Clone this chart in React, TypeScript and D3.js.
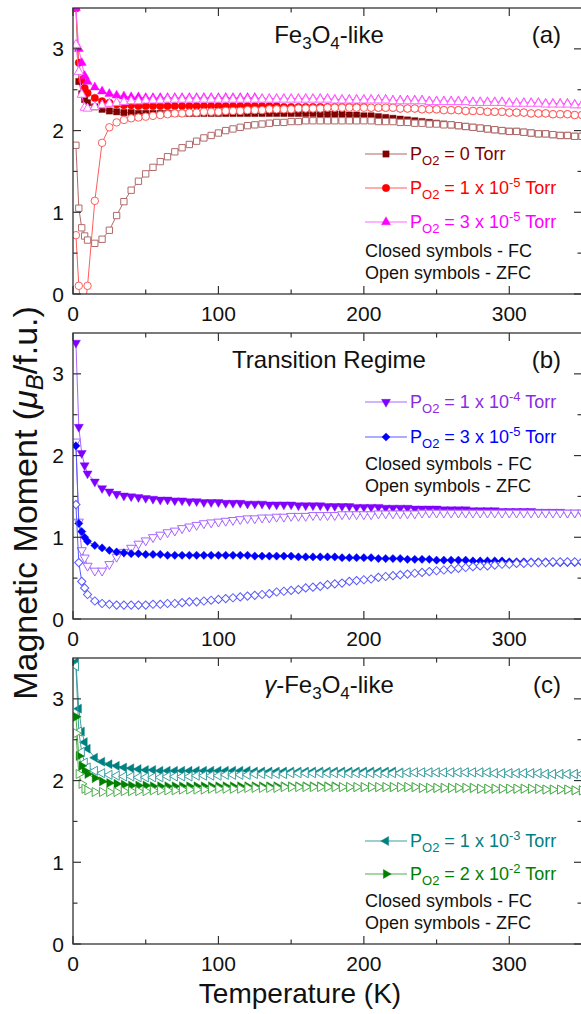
import React from "react";
import * as d3 from "d3";

// temperature grid (K), shared by every curve
const temps = [
  2, 4, 6, 8, 10, 15, 20, 25, 30, 35, 40, 45, 50, 55, 60, 65, 70, 75, 80, 85,
  90, 95, 100, 105, 110, 115, 120, 125, 130, 135, 140, 145, 150, 155, 160, 165,
  170, 175, 180, 185, 190, 195, 200, 205, 210, 215, 220, 225, 230, 235, 240,
  245, 250, 255, 260, 265, 270, 275, 280, 285, 290, 295, 300, 305, 310, 315,
  320, 325, 330, 335, 340, 345, 350,
];

/* (a) Fe3O4-like */
const a0FC = [
  3.5, 2.6, 2.45, 2.38, 2.34,
  2.29, 2.26, 2.24, 2.23, 2.22, 2.22, 2.21, 2.21, 2.21, 2.21,
  2.21, 2.21, 2.21, 2.21, 2.21, 2.21, 2.21, 2.21, 2.21, 2.21,
  2.21, 2.21, 2.21, 2.21, 2.21, 2.21, 2.21, 2.21, 2.21, 2.21,
  2.21, 2.2, 2.2, 2.2, 2.2, 2.19, 2.19, 2.18, 2.18, 2.17,
  2.16, 2.15, 2.14, 2.13, 2.12, 2.11, 2.1, 2.09, 2.08, 2.07,
  2.06, 2.05, 2.04, 2.03, 2.02, 2.01, 2.0, 1.99, 1.99, 1.98,
  1.97, 1.96, 1.96, 1.95, 1.94, 1.94, 1.93, 1.93,
];
const a0ZFC = [
  1.82, 1.05, 0.81, 0.71, 0.66,
  0.62, 0.67, 0.78, 0.96, 1.13, 1.27, 1.38, 1.47, 1.55, 1.62,
  1.68, 1.74, 1.79, 1.83, 1.87, 1.91, 1.94, 1.97, 2.0, 2.02,
  2.04, 2.06, 2.07, 2.08, 2.09, 2.1, 2.1, 2.11, 2.11, 2.12,
  2.12, 2.12, 2.12, 2.12, 2.12, 2.12, 2.12, 2.12, 2.12, 2.11,
  2.11, 2.11, 2.1, 2.1, 2.09, 2.09, 2.08, 2.08, 2.07, 2.07,
  2.06, 2.05, 2.04, 2.03, 2.02, 2.01, 2.0, 1.99, 1.99, 1.98,
  1.97, 1.96, 1.96, 1.95, 1.94, 1.94, 1.93, 1.93,
];
const a1FC = [
  3.5, 2.83, 2.62, 2.52, 2.46,
  2.4, 2.36, 2.34, 2.32, 2.31, 2.31, 2.3, 2.3, 2.3, 2.3,
  2.3, 2.3, 2.3, 2.3, 2.3, 2.3, 2.3, 2.3, 2.3, 2.3,
  2.3, 2.3, 2.3, 2.3, 2.3, 2.3, 2.29, 2.29, 2.29, 2.29,
  2.29, 2.29, 2.29, 2.29, 2.29, 2.29, 2.29, 2.29, 2.28, 2.28,
  2.28, 2.28, 2.27, 2.27, 2.27, 2.26, 2.26, 2.26, 2.25, 2.25,
  2.25, 2.24, 2.24, 2.24, 2.23, 2.23, 2.23, 2.22, 2.22, 2.22,
  2.21, 2.21, 2.21, 2.2, 2.2, 2.2, 2.19, 2.19,
];
const a1ZFC = [
  0.72, 0.1, -0.3, -0.2, 0.1,
  1.14, 1.85, 2.04, 2.1, 2.13, 2.15, 2.16, 2.17, 2.18, 2.19,
  2.2, 2.21, 2.21, 2.22, 2.22, 2.23, 2.23, 2.23, 2.24, 2.24,
  2.24, 2.25, 2.25, 2.25, 2.26, 2.26, 2.26, 2.26, 2.27, 2.27,
  2.27, 2.27, 2.28, 2.28, 2.28, 2.28, 2.28, 2.28, 2.28, 2.28,
  2.28, 2.28, 2.27, 2.27, 2.27, 2.26, 2.26, 2.26, 2.25, 2.25,
  2.25, 2.24, 2.24, 2.24, 2.23, 2.23, 2.23, 2.22, 2.22, 2.22,
  2.21, 2.21, 2.21, 2.2, 2.2, 2.2, 2.19, 2.19,
];
const a2FC = [
  3.5, 3.0, 2.83, 2.67, 2.6,
  2.53, 2.48, 2.45, 2.43, 2.42, 2.41, 2.41, 2.4, 2.4, 2.4,
  2.4, 2.4, 2.4, 2.4, 2.4, 2.4, 2.4, 2.4, 2.4, 2.4,
  2.4, 2.4, 2.4, 2.39, 2.39, 2.39, 2.39, 2.39, 2.39, 2.39,
  2.39, 2.39, 2.39, 2.38, 2.38, 2.38, 2.38, 2.38, 2.38, 2.38,
  2.38, 2.37, 2.37, 2.37, 2.37, 2.37, 2.36, 2.36, 2.36, 2.36,
  2.36, 2.36, 2.35, 2.35, 2.35, 2.35, 2.35, 2.34, 2.34, 2.34,
  2.34, 2.34, 2.33, 2.33, 2.33, 2.33, 2.32, 2.32,
];
const a2ZFC = [
  3.05, 2.72, 2.44, 2.28, 2.27,
  2.29, 2.31, 2.33, 2.34, 2.35, 2.36, 2.36, 2.37, 2.37, 2.37,
  2.38, 2.38, 2.38, 2.38, 2.38, 2.38, 2.38, 2.38, 2.38, 2.38,
  2.38, 2.38, 2.38, 2.38, 2.38, 2.38, 2.38, 2.38, 2.38, 2.38,
  2.38, 2.38, 2.38, 2.37, 2.37, 2.37, 2.37, 2.37, 2.37, 2.37,
  2.37, 2.36, 2.36, 2.36, 2.36, 2.36, 2.35, 2.35, 2.35, 2.35,
  2.35, 2.35, 2.34, 2.34, 2.34, 2.34, 2.34, 2.33, 2.33, 2.33,
  2.33, 2.33, 2.32, 2.32, 2.32, 2.32, 2.31, 2.31,
];

/* (b) Transition regime */
const b0FC = [
  3.38, 2.35, 2.03, 1.88, 1.78,
  1.68, 1.6, 1.56, 1.53, 1.51, 1.5, 1.49, 1.48, 1.47, 1.46,
  1.46, 1.45, 1.45, 1.44, 1.44, 1.43, 1.43, 1.43, 1.42, 1.42,
  1.42, 1.41, 1.41, 1.41, 1.4, 1.4, 1.4, 1.4, 1.39, 1.39,
  1.39, 1.39, 1.38, 1.38, 1.38, 1.38, 1.37, 1.37, 1.37, 1.37,
  1.36, 1.36, 1.36, 1.36, 1.35, 1.35, 1.35, 1.35, 1.34, 1.34,
  1.34, 1.34, 1.33, 1.33, 1.33, 1.33, 1.32, 1.32, 1.32, 1.32,
  1.32, 1.31, 1.31, 1.31, 1.31, 1.3, 1.3, 1.3,
];
const b0ZFC = [
  2.17, 1.19, 0.84, 0.75, 0.65,
  0.59, 0.59, 0.67, 0.76, 0.82, 0.87, 0.92, 0.96, 1.0, 1.03,
  1.06, 1.08, 1.11, 1.13, 1.15, 1.17, 1.18, 1.19, 1.2, 1.21,
  1.22, 1.23, 1.23, 1.24, 1.24, 1.25, 1.25, 1.26, 1.26, 1.26,
  1.27, 1.27, 1.27, 1.27, 1.28, 1.28, 1.28, 1.28, 1.28, 1.29,
  1.29, 1.29, 1.29, 1.29, 1.29, 1.3, 1.3, 1.3, 1.3, 1.3,
  1.3, 1.3, 1.3, 1.3, 1.3, 1.3, 1.3, 1.3, 1.3, 1.3,
  1.3, 1.3, 1.3, 1.3, 1.3, 1.3, 1.3, 1.3,
];
const b1FC = [
  2.12, 1.17, 1.07, 1.0, 0.95,
  0.9, 0.87, 0.84, 0.82, 0.81, 0.8, 0.8, 0.79, 0.79, 0.79,
  0.78, 0.78, 0.78, 0.78, 0.78, 0.78, 0.78, 0.78, 0.78, 0.78,
  0.78, 0.78, 0.77, 0.77, 0.77, 0.77, 0.77, 0.77, 0.76, 0.76,
  0.76, 0.76, 0.76, 0.76, 0.75, 0.75, 0.75, 0.75, 0.75, 0.74,
  0.74, 0.74, 0.74, 0.73, 0.73, 0.73, 0.73, 0.72, 0.72, 0.72,
  0.72, 0.72, 0.71, 0.71, 0.71, 0.71, 0.71, 0.7, 0.7, 0.7,
  0.7, 0.7, 0.7, 0.69, 0.69, 0.69, 0.69, 0.69,
];
const b1ZFC = [
  1.4, 0.69, 0.46, 0.38, 0.3,
  0.22, 0.19, 0.18, 0.17, 0.17, 0.17, 0.17, 0.17, 0.18, 0.18,
  0.19, 0.19, 0.2, 0.21, 0.21, 0.22, 0.23, 0.24, 0.25, 0.26,
  0.27, 0.28, 0.29, 0.3, 0.31, 0.33, 0.34, 0.35, 0.36, 0.38,
  0.39, 0.4, 0.42, 0.43, 0.44, 0.46, 0.47, 0.48, 0.49, 0.51,
  0.52, 0.53, 0.54, 0.55, 0.56, 0.57, 0.58, 0.59, 0.6, 0.61,
  0.62, 0.63, 0.64, 0.65, 0.65, 0.66, 0.67, 0.67, 0.68, 0.68,
  0.69, 0.69, 0.69, 0.7, 0.7, 0.7, 0.7, 0.7,
];

/* (c) gamma-Fe3O4-like */
const c0FC = [
  3.45, 2.88, 2.6, 2.47, 2.39,
  2.28, 2.23, 2.2, 2.18, 2.16, 2.15, 2.14, 2.13, 2.13, 2.12,
  2.12, 2.12, 2.12, 2.12, 2.12, 2.12, 2.12, 2.12, 2.12, 2.12,
  2.12, 2.12, 2.11, 2.11, 2.11, 2.11, 2.11, 2.11, 2.11, 2.11,
  2.11, 2.11, 2.11, 2.11, 2.11, 2.11, 2.11, 2.11, 2.11, 2.11,
  2.11, 2.11, 2.1, 2.1, 2.1, 2.1, 2.1, 2.1, 2.1, 2.1,
  2.1, 2.1, 2.1, 2.1, 2.1, 2.09, 2.09, 2.09, 2.09, 2.09,
  2.09, 2.09, 2.08, 2.08, 2.08, 2.08, 2.08, 2.08,
];
const c0ZFC = [
  3.4, 2.6, 2.35, 2.22, 2.16,
  2.12, 2.09, 2.07, 2.06, 2.05, 2.05, 2.04, 2.04, 2.04, 2.04,
  2.05, 2.05, 2.05, 2.05, 2.06, 2.06, 2.06, 2.06, 2.07, 2.07,
  2.07, 2.07, 2.08, 2.08, 2.08, 2.08, 2.08, 2.09, 2.09, 2.09,
  2.09, 2.09, 2.09, 2.09, 2.09, 2.09, 2.09, 2.09, 2.09, 2.09,
  2.09, 2.09, 2.09, 2.1, 2.1, 2.1, 2.1, 2.1, 2.1, 2.1,
  2.1, 2.1, 2.1, 2.1, 2.1, 2.09, 2.09, 2.09, 2.09, 2.09,
  2.09, 2.09, 2.08, 2.08, 2.08, 2.08, 2.08, 2.08,
];
const c1FC = [
  2.78, 2.3, 2.18, 2.12, 2.08,
  2.03, 1.99, 1.97, 1.96, 1.95, 1.94, 1.94, 1.94, 1.93, 1.93,
  1.93, 1.93, 1.93, 1.93, 1.93, 1.93, 1.93, 1.93, 1.93, 1.93,
  1.93, 1.93, 1.93, 1.93, 1.93, 1.93, 1.93, 1.93, 1.93, 1.93,
  1.93, 1.93, 1.93, 1.93, 1.92, 1.92, 1.92, 1.92, 1.92, 1.92,
  1.92, 1.92, 1.92, 1.92, 1.92, 1.91, 1.91, 1.91, 1.91, 1.91,
  1.91, 1.91, 1.91, 1.9, 1.9, 1.9, 1.9, 1.9, 1.9, 1.9,
  1.9, 1.9, 1.89, 1.89, 1.89, 1.89, 1.88, 1.88,
];
const c1ZFC = [
  2.58, 2.08, 1.96, 1.9, 1.88,
  1.86, 1.86, 1.86, 1.86, 1.87, 1.87, 1.87, 1.87, 1.88, 1.88,
  1.88, 1.88, 1.89, 1.89, 1.89, 1.89, 1.9, 1.9, 1.9, 1.9,
  1.9, 1.91, 1.91, 1.91, 1.91, 1.91, 1.92, 1.92, 1.92, 1.92,
  1.92, 1.92, 1.92, 1.92, 1.92, 1.92, 1.92, 1.92, 1.92, 1.92,
  1.92, 1.92, 1.92, 1.92, 1.92, 1.91, 1.91, 1.91, 1.91, 1.91,
  1.91, 1.91, 1.91, 1.9, 1.9, 1.9, 1.9, 1.9, 1.9, 1.9,
  1.9, 1.9, 1.89, 1.89, 1.89, 1.89, 1.88, 1.88,
];

const xTicks = [0, 100, 200, 300];
const xMinor = [50, 150, 250, 350];
const yTicks = [0, 1, 2, 3];
const yMinor = [0.5, 1.5, 2.5];

const FONT = "'Liberation Sans', Arial, Helvetica, sans-serif";
const AXIS = "#333";

const x = d3.scaleLinear().domain([0, 350]).range([73, 582]);
const PANEL_H = 286;

type Shape = "square" | "circle" | "up" | "down" | "left" | "right" | "diamond";

const symType = (s: Shape) =>
  s === "circle" ? d3.symbolCircle : s === "square" || s === "diamond" ? d3.symbolSquare : d3.symbolTriangle;
const symRot: Record<Shape, number> = { square: 0, circle: 0, up: 0, down: 180, left: -90, right: 90, diamond: 45 };
const symSize: Record<Shape, number> = { square: 40, circle: 44, up: 36, down: 36, left: 36, right: 36, diamond: 34 };

const Marker = ({ shape, cx, cy, color, filled }: any) => (
  <path
    d={d3.symbol().type(symType(shape)).size(symSize[shape as Shape])() as string}
    transform={`translate(${cx},${cy}) rotate(${symRot[shape as Shape]})`}
    fill={filled ? color : "#fff"}
    stroke={color}
    strokeWidth={filled ? 0.4 : 1}
  />
);

const Sub = ({ children, size, dy }: any) => (
  <tspan fontSize={size} dy={dy}>
    {children}
  </tspan>
);

const Panel = ({ top, id, title, tag, series, legendRows, noteX, noteY }: any) => {
  const y = d3.scaleLinear().domain([0, 3.5]).range([top + PANEL_H, top]);
  const bottom = top + PANEL_H;
  const line = d3
    .line<number>()
    .x((_, i) => x(temps[i]))
    .y((d) => y(d));
  return (
    <g>
      <clipPath id={id}>
        <rect x={x(0)} y={top} width={x(350) - x(0)} height={PANEL_H} />
      </clipPath>
      <g clipPath={`url(#${id})`}>
        {series.map((s: any, k: number) => (
          <g key={k}>
            <path d={line(s.fc) as string} fill="none" stroke={s.light} strokeWidth={1} />
            {s.fc.map((v: number, i: number) => (
              <Marker key={"f" + i} shape={s.shape} cx={x(temps[i])} cy={y(v)} color={s.dark} filled />
            ))}
            <path d={line(s.zfc) as string} fill="none" stroke={s.light} strokeWidth={1} />
            {s.zfc.map((v: number, i: number) => (
              <Marker key={"z" + i} shape={s.shape} cx={x(temps[i])} cy={y(v)} color={s.light} filled={false} />
            ))}
          </g>
        ))}
      </g>
      {/* frame and ticks */}
      <rect x={x(0)} y={top} width={x(350) - x(0)} height={PANEL_H} fill="none" stroke={AXIS} strokeWidth={1.3} />
      {xTicks.map((t) => (
        <g key={"xt" + t}>
          <line x1={x(t)} x2={x(t)} y1={bottom} y2={bottom - 8} stroke={AXIS} strokeWidth={1.2} />
          <line x1={x(t)} x2={x(t)} y1={top} y2={top + 8} stroke={AXIS} strokeWidth={1.2} />
          <text x={x(t)} y={bottom + 27} textAnchor="middle" fontSize={21} fill="#111">
            {t}
          </text>
        </g>
      ))}
      {xMinor.map((t) => (
        <g key={"xm" + t}>
          <line x1={x(t)} x2={x(t)} y1={bottom} y2={bottom - 4.5} stroke={AXIS} strokeWidth={1.2} />
          <line x1={x(t)} x2={x(t)} y1={top} y2={top + 4.5} stroke={AXIS} strokeWidth={1.2} />
        </g>
      ))}
      {yTicks.map((t) => (
        <g key={"yt" + t}>
          <line x1={x(0)} x2={x(0) + 8} y1={y(t)} y2={y(t)} stroke={AXIS} strokeWidth={1.2} />
          <line x1={x(350)} x2={x(350) - 8} y1={y(t)} y2={y(t)} stroke={AXIS} strokeWidth={1.2} />
          <text x={64} y={y(t) + 7.5} textAnchor="end" fontSize={21} fill="#111">
            {t}
          </text>
        </g>
      ))}
      {yMinor.map((t) => (
        <g key={"ym" + t}>
          <line x1={x(0)} x2={x(0) + 4.5} y1={y(t)} y2={y(t)} stroke={AXIS} strokeWidth={1.2} />
          <line x1={x(350)} x2={x(350) - 4.5} y1={y(t)} y2={y(t)} stroke={AXIS} strokeWidth={1.2} />
        </g>
      ))}
      {/* title */}
      <text x={329} y={top + 35} textAnchor="middle" fontSize={24} fill="#111">
        {title}
      </text>
      <text x={561} y={top + 35} textAnchor="end" fontSize={24} fill="#111">
        {tag}
      </text>
      {/* legend */}
      {series.map((s: any, k: number) => {
        const bl = legendRows[k];
        return (
          <g key={"lg" + k}>
            <line x1={365} x2={407} y1={bl - 6} y2={bl - 6} stroke={s.light} strokeWidth={1.2} />
            <Marker shape={s.shape} cx={386} cy={bl - 6} color={s.dark} filled />
            <text x={noteX + 45} y={bl} fontSize={18} fill={s.text}>
              P
              <Sub size={13} dy={5}>
                O2
              </Sub>
              <tspan dy={-5}>{" = " + s.mant}</tspan>
              {s.exp ? (
                <>
                  <Sub size={13} dy={-7}>
                    {s.exp}
                  </Sub>
                  <tspan dy={7}>{" Torr"}</tspan>
                </>
              ) : (
                <tspan>{" Torr"}</tspan>
              )}
            </text>
          </g>
        );
      })}
      <text x={noteX} y={noteY} fontSize={18} fill="#111">
        Closed symbols - FC
      </text>
      <text x={noteX} y={noteY + 22} fontSize={18} fill="#111">
        Open symbols - ZFC
      </text>
    </g>
  );
};

export default function App() {
  const seriesA = [
    { fc: a0FC, zfc: a0ZFC, shape: "square", dark: "#800000", light: "#b06a6a", text: "#800000", mant: "0", exp: "" },
    { fc: a1FC, zfc: a1ZFC, shape: "circle", dark: "#ff0000", light: "#ff5c5c", text: "#ff0000", mant: "1 x 10", exp: "-5" },
    { fc: a2FC, zfc: a2ZFC, shape: "up", dark: "#ff00ff", light: "#ff66ff", text: "#ff00ff", mant: "3 x 10", exp: "-5" },
  ];
  const seriesB = [
    { fc: b0FC, zfc: b0ZFC, shape: "down", dark: "#8000ff", light: "#a866ff", text: "#8a2be2", mant: "1 x 10", exp: "-4" },
    { fc: b1FC, zfc: b1ZFC, shape: "diamond", dark: "#0000ff", light: "#5a5aff", text: "#0000ff", mant: "3 x 10", exp: "-5" },
  ];
  const seriesC = [
    { fc: c0FC, zfc: c0ZFC, shape: "left", dark: "#008080", light: "#3fa0a0", text: "#008080", mant: "1 x 10", exp: "-3" },
    { fc: c1FC, zfc: c1ZFC, shape: "right", dark: "#008000", light: "#4fae4f", text: "#008000", mant: "2 x 10", exp: "-2" },
  ];

  const feTitle = (gamma: boolean) => (
    <>
      {gamma ? <tspan fontStyle="italic">γ</tspan> : null}
      {gamma ? "-Fe" : "Fe"}
      <Sub size={17} dy={6}>
        3
      </Sub>
      <tspan dy={-6}>O</tspan>
      <Sub size={17} dy={6}>
        4
      </Sub>
      <tspan dy={-6}>-like</tspan>
    </>
  );

  return (
    <svg
      width={581}
      height={1014}
      style={{ position: "absolute", left: 0, top: 0, background: "#fff" }}
      fontFamily={FONT}
    >
      <rect width={581} height={1014} fill="#fff" />
      <Panel
        top={8}
        id="clipA"
        title={feTitle(false)}
        tag="(a)"
        series={seriesA}
        legendRows={[160, 194, 228]}
        noteX={365}
        noteY={257}
      />
      <Panel
        top={333}
        id="clipB"
        title="Transition Regime"
        tag="(b)"
        series={seriesB}
        legendRows={[408, 443]}
        noteX={365}
        noteY={470}
      />
      <Panel
        top={658}
        id="clipC"
        title={feTitle(true)}
        tag="(c)"
        series={seriesC}
        legendRows={[847, 880]}
        noteX={365}
        noteY={907}
      />
      <text x={300} y={1003} textAnchor="middle" fontSize={28} fill="#111">
        Temperature (K)
      </text>
      <text transform="translate(37,503) rotate(-90)" textAnchor="middle" fontSize={34} fill="#111">
        Magnetic Moment (<tspan fontStyle="italic">μ</tspan>
        <tspan fontStyle="italic" fontSize={24} dy={6}>
          B
        </tspan>
        <tspan dy={-6}>/f.u.)</tspan>
      </text>
    </svg>
  );
}
